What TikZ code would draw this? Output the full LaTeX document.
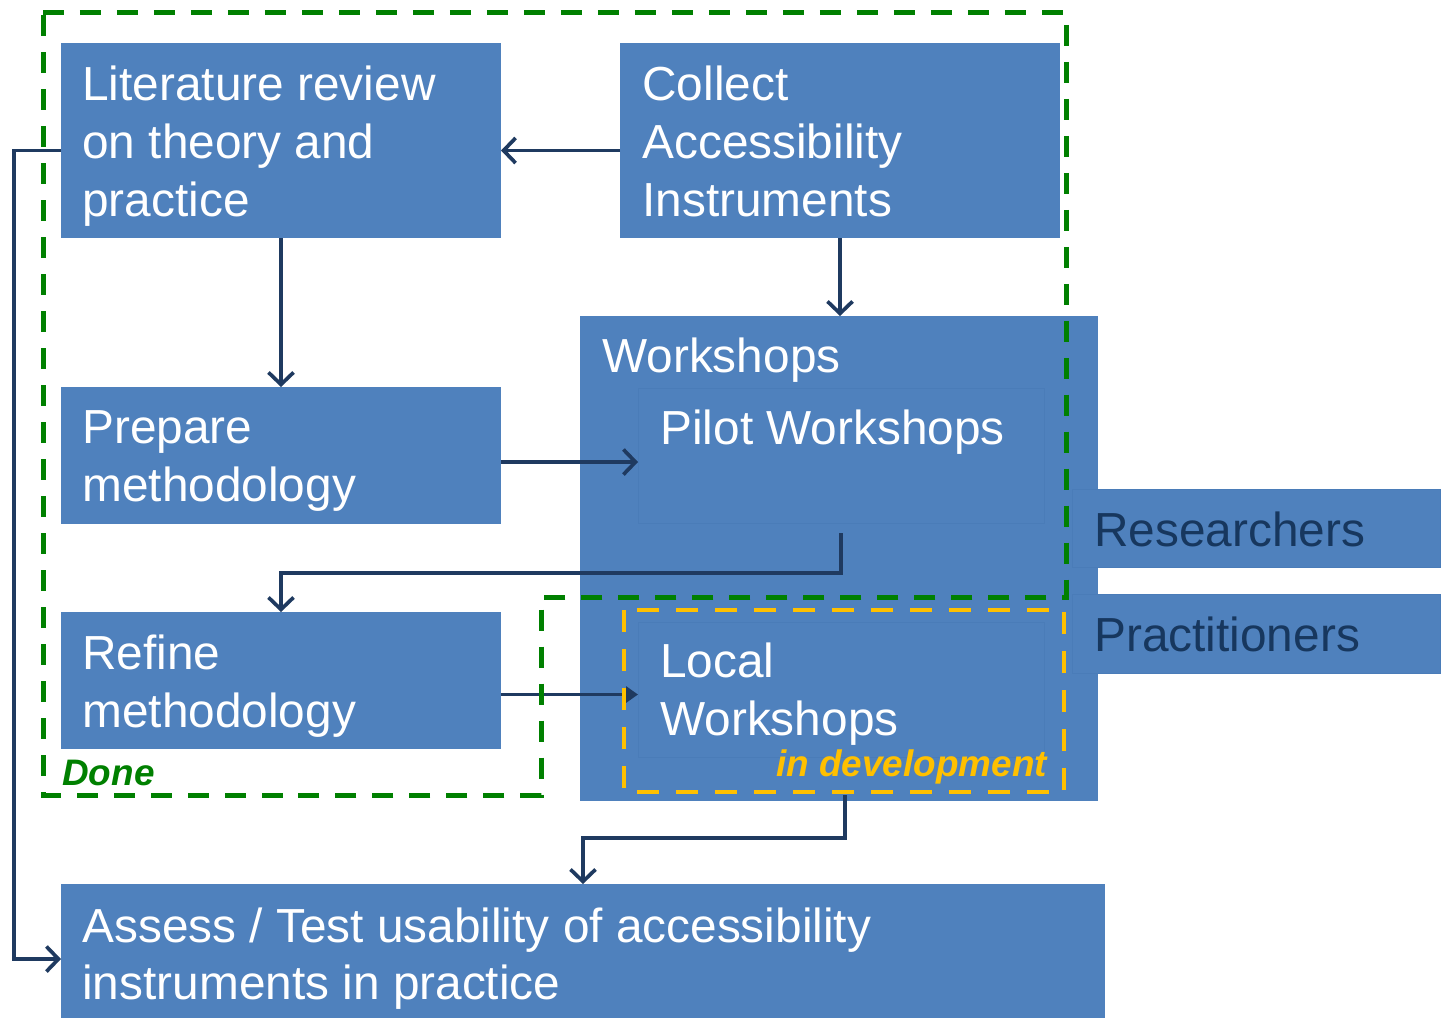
\documentclass[tikz,border=0pt]{standalone}
\usepackage{fontspec}
\setmainfont{Liberation Sans}
\usetikzlibrary{arrows.meta,fit}
\definecolor{boxblue}{HTML}{4F81BD}
\definecolor{edgeblue}{HTML}{4A7CB8}
\definecolor{navy}{HTML}{1F3A60}
\definecolor{donegreen}{HTML}{008000}
\definecolor{devyellow}{HTML}{FFC000}
\definecolor{roletext}{HTML}{17375E}
\begin{document}
\begin{tikzpicture}[x=0.02cm,y=-0.02cm,
  box/.style={fill=boxblue, inner sep=0pt, outer sep=0pt},
  inbox/.style={box, draw=edgeblue, line width=0.4pt},
  wtext/.style={text=white, font=\fontsize{27.2}{32.9}\selectfont, align=left, inner sep=0pt, anchor=north west},
  rtext/.style={wtext, text=roletext},
  conn/.style={draw=navy, line width=2.1pt, -{Straight Barb[length=0.24cm,width=0.5cm]}},
  conntri/.style={draw=navy, line width=2.1pt, -{Triangle[length=0.24cm,width=0.32cm]}},
  donebox/.style={draw=donegreen, line width=0.1cm, dash pattern=on 0.42cm off 0.32cm},
  devbox/.style={draw=devyellow, line width=0.08cm, dash pattern=on 0.44cm off 0.34cm},
  statetext/.style={font=\fontsize{21}{24}\selectfont\bfseries\itshape, inner sep=0pt, anchor=base west}
]
\useasboundingbox (0,0) rectangle (1443,1019);

% boxes
\node[box, fit={(61,43)(501,238)}] (lit) {};
\node[box, fit={(620,43)(1060,238)}] (collect) {};
\node[box, fit={(580,316)(1098,801)}] (ws) {};
\node[inbox, fit={(638,388)(1044,523)}] (pilot) {};
\node[inbox, fit={(638,622)(1044,757)}] (local) {};
\node[box, fit={(61,387)(501,524)}] (prepare) {};
\node[box, fit={(61,612)(501,749)}] (refine) {};
\node[inbox, fit={(1072,489)(1440,567)}] (res) {};
\node[inbox, fit={(1072,594)(1440,673)}] (prac) {};
\node[box, fit={(61,884)(1105,1018)}] (assess) {};

% texts
\node[wtext] (litT) at (82,66) {Literature review\\on theory and\\practice};
\node[wtext] (collectT) at (642,66) {Collect\\Accessibility\\Instruments};
\node[wtext] (wsT) at (602,338) {Workshops};
\node[wtext] (pilotT) at (660,410) {Pilot Workshops};
\node[wtext] (localT) at (660,643) {Local\\Workshops};
\node[wtext] (prepareT) at (82,410) {Prepare\\methodology};
\node[wtext] (refineT) at (82,635) {Refine\\methodology};
\node[wtext] (assessT) at (82,907) {Assess / Test usability of accessibility\\instruments in practice};
\node[rtext] (resT) at (1094,512) {Researchers};
\node[rtext] (pracT) at (1094,617) {Practitioners};

% connectors
\draw[conn] ([yshift=-0.2cm]collect.west) -- ([yshift=-0.2cm]lit.east);
\draw[conn] (collect.south) -- (collect.south |- ws.north);
\draw[conn] (lit.south) -- (prepare.north);
\draw[conn] ([yshift=-0.13cm]prepare.east) -- ([yshift=-0.13cm]pilot.west);
\draw[conn] ([yshift=-0.2cm]pilot.south) -- ++(0,40) -| (refine.north);
\draw[conntri] ([yshift=-0.28cm]refine.east) -- ([yshift=-0.28cm]refine.east -| local.west);
\draw[conn] ([xshift=0.08cm,yshift=-0.76cm]local.south) -- ++(0,43) -| (assess.north);
\draw[conn] ([yshift=-0.2cm]lit.west) -- ++(-47,0) |- ([yshift=-0.16cm]assess.west);

% state frames
\draw[donebox] (43,12) -- (1066,12) -- (1066,597) -- (541,597) -- (541,795) -- (43,795) -- cycle;
\draw[devbox] (624,610) rectangle (1064,792);
\node[statetext, text=donegreen] (done) at (62,785) {Done};
\node[statetext, text=devyellow] (dev) at (776,776) {in development};
\end{tikzpicture}
\end{document}
